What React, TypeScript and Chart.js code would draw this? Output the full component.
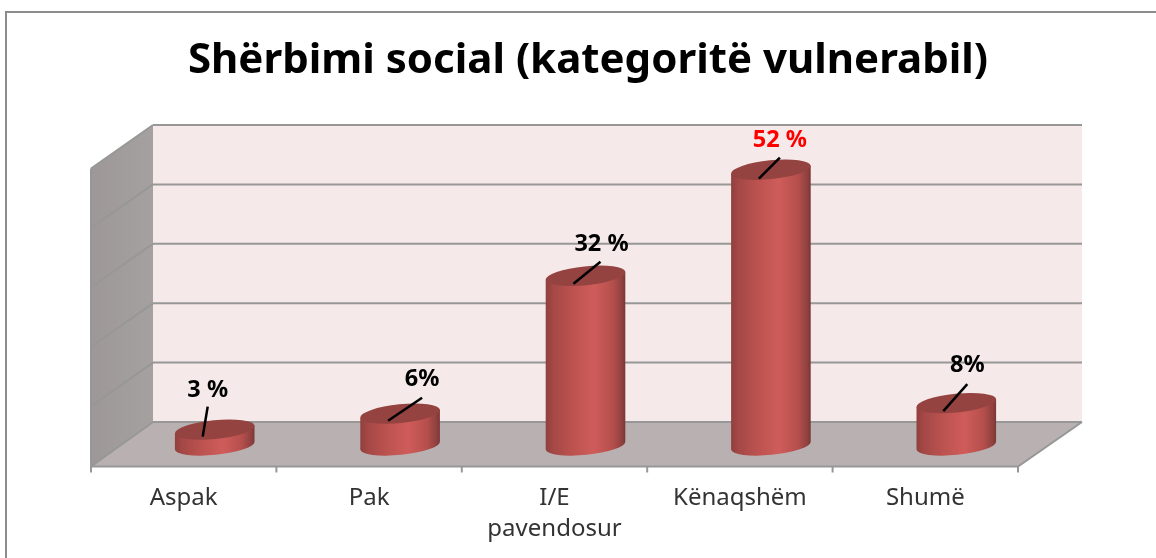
import React, { useEffect, useRef } from "react";
import { Chart, registerables } from "chart.js";

Chart.register(...registerables);

const titleText = "Shërbimi social (kategoritë vulnerabil)";
const categories = ["Aspak", "Pak", ["I/E", "pavendosur"], "Kënaqshëm", "Shumë"];
const values = [3, 6, 32, 52, 8];
const valueLabels = ["3 %", "6%", "32 %", "52 %", "8%"];
const valueLabelColors = ["#000000", "#000000", "#000000", "#ff0000", "#000000"];

// leader start (on the cylinder top) and end, relative to the bar's top centre
const leaderStart = [[-12, 7], [-12, 7], [-12, 8], [-12, 9], [-13, 8]];
const leaderEnd = [[-7, -23], [22, -16], [15, -14], [9, -12], [11, -19]];
const labelOffset = [[-7, -39], [22, -34], [16, -31], [9, -29], [11, -38]];

const AXIS_MAX = 56;
const DEPTH_X = 31;
const DEPTH_FRONT_Y = 21;
const DEPTH_BACK_Y = 23.5;
const ELLIPSE_RY = 9.4;
const TILT = -0.1;
const LINE = "#979797";

const scenePlugin = {
  id: "scene",
  beforeDatasetsDraw(chart: any) {
    const { ctx, chartArea: a, scales } = chart;
    const y = scales.y;
    const ticks = y.ticks.map((t: any) => y.getPixelForValue(t.value));
    const bottom = y.getPixelForValue(0);
    const top = y.getPixelForValue(AXIS_MAX);
    const fl = a.left - DEPTH_X, bl = a.left + DEPTH_X;
    const fr = a.right - DEPTH_X, br = a.right + DEPTH_X + 2;
    const fb = bottom + DEPTH_FRONT_Y, bb = bottom - DEPTH_BACK_Y;
    const ft = top + DEPTH_FRONT_Y - 1, bt = top - DEPTH_BACK_Y;
    ctx.save();

    // frame
    ctx.strokeStyle = "#8c8c8c";
    ctx.lineWidth = 2;
    ctx.beginPath();
    ctx.moveTo(6, 558);
    ctx.lineTo(6, 12);
    ctx.lineTo(1156, 12);
    ctx.stroke();

    // back wall
    ctx.fillStyle = "#f5e9e9";
    ctx.fillRect(bl, bt, br - bl, bb - bt);
    // left wall
    const g = ctx.createLinearGradient(fl, 0, bl, 0);
    g.addColorStop(0, "#9d9797");
    g.addColorStop(1, "#a6a1a1");
    ctx.fillStyle = g;
    ctx.beginPath();
    ctx.moveTo(fl, ft);
    ctx.lineTo(bl, bt);
    ctx.lineTo(bl, bb);
    ctx.lineTo(fl, fb);
    ctx.closePath();
    ctx.fill();
    // floor
    ctx.fillStyle = "#b9b0b1";
    ctx.beginPath();
    ctx.moveTo(fl, fb);
    ctx.lineTo(bl, bb);
    ctx.lineTo(br, bb);
    ctx.lineTo(fr, fb);
    ctx.closePath();
    ctx.fill();

    // grid
    ctx.strokeStyle = LINE;
    ctx.lineWidth = 2;
    ticks.forEach((p: number) => {
      const yb = p - DEPTH_BACK_Y;
      ctx.beginPath();
      ctx.moveTo(bl, yb);
      ctx.lineTo(br, yb);
      ctx.stroke();
      ctx.beginPath();
      ctx.moveTo(fl, p + DEPTH_FRONT_Y - (p === bottom ? 0 : 1));
      ctx.lineTo(bl, yb);
      ctx.stroke();
    });
    // axis edges
    ctx.beginPath();
    ctx.moveTo(fl, ft);
    ctx.lineTo(fl, fb);
    ctx.lineTo(fr, fb);
    ctx.lineTo(br, bb);
    ctx.stroke();
    const step = (fr - fl) / categories.length;
    for (let i = 0; i <= categories.length; i++) {
      const x = fl + step * i;
      ctx.beginPath();
      ctx.moveTo(x, fb);
      ctx.lineTo(x, fb + 6);
      ctx.stroke();
    }
    ctx.restore();
  },
  beforeDatasetDraw(chart: any) {
    const { ctx } = chart;
    const meta = chart.getDatasetMeta(0);
    meta.data.forEach((bar: any) => {
      const rx = bar.width / 2;
      const cx = bar.x, ty = bar.y, by = bar.base;
      const dx = rx * Math.cos(TILT), dy = rx * Math.sin(TILT);
      const g = ctx.createLinearGradient(cx - rx, 0, cx + rx, 0);
      g.addColorStop(0, "#8f403e");
      g.addColorStop(0.1, "#a54846");
      g.addColorStop(0.35, "#bd5350");
      g.addColorStop(0.6, "#cf5c5a");
      g.addColorStop(0.84, "#b54f4c");
      g.addColorStop(0.96, "#8d403e");
      g.addColorStop(1, "#793533");
      ctx.save();
      ctx.fillStyle = g;
      ctx.beginPath();
      ctx.moveTo(cx - dx, ty - dy);
      ctx.lineTo(cx - dx, by - dy);
      ctx.ellipse(cx, by, rx, ELLIPSE_RY, TILT, Math.PI, 0, true);
      ctx.lineTo(cx + dx, ty + dy);
      ctx.closePath();
      ctx.fill();
      ctx.fillStyle = "#944341";
      ctx.beginPath();
      ctx.ellipse(cx, ty, rx, ELLIPSE_RY, TILT, 0, Math.PI * 2);
      ctx.fill();
      ctx.restore();
    });
    return false;
  },
  afterDraw(chart: any) {
    const { ctx } = chart;
    const meta = chart.getDatasetMeta(0);
    ctx.save();
    meta.data.forEach((bar: any, i: number) => {
      ctx.strokeStyle = "#000000";
      ctx.lineWidth = 2.5;
      ctx.beginPath();
      ctx.moveTo(bar.x + leaderStart[i][0], bar.y + leaderStart[i][1]);
      ctx.lineTo(bar.x + leaderEnd[i][0], bar.y + leaderEnd[i][1]);
      ctx.stroke();
      ctx.fillStyle = valueLabelColors[i];
      ctx.font = "bold 23.5px 'Noto Sans'";
      ctx.textAlign = "center";
      ctx.textBaseline = "middle";
      ctx.fillText(valueLabels[i], bar.x + labelOffset[i][0], bar.y + labelOffset[i][1]);
    });
    ctx.restore();
  },
};

export default function App() {
  const ref = useRef<HTMLCanvasElement | null>(null);
  useEffect(() => {
    document.body.style.margin = "0";
    document.body.style.background = "#ffffff";
    const chart = new Chart(ref.current as HTMLCanvasElement, {
      type: "bar",
      data: {
        labels: categories as any,
        datasets: [{ data: values, backgroundColor: "#c0504d", barThickness: 80 }],
      },
      plugins: [scenePlugin],
      options: {
        responsive: false,
        animation: false,
        layout: { padding: { left: 122, right: 102, top: 0, bottom: 0 } },
        plugins: {
          legend: { display: false },
          tooltip: { enabled: false },
          title: {
            display: true,
            text: titleText,
            color: "#000000",
            font: { family: "'Noto Sans'", size: 42, weight: "bold", lineHeight: 1.2 },
            padding: { top: 36, bottom: 62.1 },
          },
        },
        scales: {
          x: {
            grid: { display: false },
            border: { display: false },
            ticks: {
              color: "#333333",
              labelOffset: -DEPTH_X,
              padding: 29,
              maxRotation: 0,
              autoSkip: false,
              font: { family: "'Noto Sans'", size: 24, lineHeight: 1.3 },
            },
            afterFit(scale: any) {
              scale.height = 112.5;
            },
          },
          y: {
            position: "right",
            min: 0,
            max: AXIS_MAX,
            grid: { display: false },
            border: { display: false },
            ticks: { stepSize: AXIS_MAX / 5, display: false },
            afterFit(scale: any) {
              scale.width = 5;
            },
          },
        },
      } as any,
    });
    return () => chart.destroy();
  }, []);
  return (
    <div style={{ width: 1156, height: 558, background: "#ffffff" }}>
      <canvas ref={ref} width={1156} height={558} style={{ display: "block" }} />
    </div>
  );
}
